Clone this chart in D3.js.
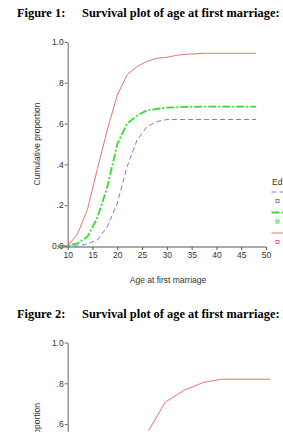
<!DOCTYPE html>
<html>
<head>
<meta charset="utf-8">
<script src="https://cdn.jsdelivr.net/npm/d3@7"></script>
<style>
  body { margin: 0; background: #fff; }
  text { font-family: "Liberation Sans", Arial, sans-serif; fill: #333; }
  .title { font-family: "Liberation Serif", "Times New Roman", serif; font-weight: bold; font-size: 12.4px; fill: #000; }
</style>
</head>
<body>
<svg width="283" height="432"></svg>
<script>
// x ticks and y ticks shared by both figures
const xTicks = [10, 15, 20, 25, 30, 35, 40, 45, 50]
const yTicks = [0, 0.2, 0.4, 0.6, 0.8, 1.0]
const yTickLabels = ["0.0", ".2", ".4", ".6", ".8", "1.0"]

// figure 1 series (age, cumulative proportion)
const ageF1 = [8, 10, 12, 14, 16, 18, 20, 22, 24, 26, 28, 30, 32, 34, 38, 48]
const redF1 = [0, 0, 0.06, 0.18, 0.38, 0.57, 0.74, 0.84, 0.88, 0.905, 0.92, 0.925, 0.935, 0.94, 0.945, 0.945]
const greenF1 = [0, 0, 0.013, 0.046, 0.14, 0.29, 0.5, 0.6, 0.64, 0.665, 0.672, 0.678, 0.68, 0.682, 0.683, 0.683]
const blueF1 = [0, 0, 0, 0.01, 0.03, 0.095, 0.21, 0.39, 0.52, 0.585, 0.61, 0.62, 0.62, 0.62, 0.62, 0.62]

// figure 2 (only the upper part is visible)
const ageF2 = [26.3, 29.7, 33.4, 37.4, 41.1, 50.9]
const redF2 = [0.568, 0.708, 0.765, 0.805, 0.82, 0.82]

const svg = d3.select("svg")

const x = d3.scaleLinear().domain([8, 50]).range([57.8, 266])

const styles = {
  blue: { color: "#6a6ae0", width: 0.9, dash: "5,3" },
  green: { color: "#33dd33", width: 1.8, dash: "8,2,2,2" },
  red: { color: "#e06464", width: 0.9, dash: null }
}

const drawPanel = function (top, series, showX, showLegend) {
  const y = d3.scaleLinear().domain([0, 1]).range([top + 204, top])

  // y axis
  const axisY = d3.axisLeft(y)
    .tickValues(yTicks)
    .tickFormat((d, i) => yTickLabels[i])
    .tickSizeInner(3)
    .tickSizeOuter(0)
    .tickPadding(1)
  const gy = svg.append("g")
    .attr("transform", `translate(${x(10)},0)`)
    .call(axisY)
  gy.select(".domain").attr("stroke", "#888").attr("stroke-width", 1.3)
  gy.selectAll(".tick line").attr("stroke", "#666")
  gy.selectAll("text").attr("font-size", "8.5px").attr("fill", "#444")
    .attr("font-family", "Liberation Sans, Arial, sans-serif")

  svg.append("text")
    .attr("transform", `translate(40,${top + 102}) rotate(-90)`)
    .attr("text-anchor", "middle")
    .attr("font-size", "8.5px")
    .text("Cumulative proportion")

  if (showX) {
    const axisX = d3.axisBottom(x)
      .tickValues(xTicks)
      .tickSizeInner(3)
      .tickSizeOuter(0)
      .tickPadding(2)
    const gx = svg.append("g")
      .attr("transform", `translate(0,${top + 205})`)
      .call(axisX)
    gx.select(".domain").attr("stroke", "#555").attr("stroke-width", 1)
      .attr("d", `M${x(8)},0H${x(50)}`)
    gx.selectAll(".tick line").attr("stroke", "#555")
    gx.selectAll("text").attr("font-size", "8.5px").attr("fill", "#444")
      .attr("font-family", "Liberation Sans, Arial, sans-serif")

    svg.append("text")
      .attr("x", 168)
      .attr("y", top + 241)
      .attr("text-anchor", "middle")
      .attr("font-size", "8.5px")
      .text("Age at first marriage")
  }

  const line = d3.line()
    .x(d => x(d[0]))
    .y(d => y(d[1]))

  series.forEach(s => {
    const st = styles[s.key]
    svg.append("path")
      .datum(d3.zip(s.ages, s.values))
      .attr("fill", "none")
      .attr("stroke", st.color)
      .attr("stroke-width", st.width)
      .attr("stroke-dasharray", st.dash)
      .attr("d", line)
  })

  if (showLegend) {
    svg.append("text")
      .attr("x", 272)
      .attr("y", top + 143)
      .attr("font-size", "8.5px")
      .text("Ed")
    const keys = ["blue", "green", "red"]
    keys.forEach((k, i) => {
      const st = styles[k]
      const ly = top + 150 + i * 20.5
      svg.append("line")
        .attr("x1", 271.5).attr("x2", 290)
        .attr("y1", ly).attr("y2", ly)
        .attr("stroke", st.color)
        .attr("stroke-width", st.width)
        .attr("stroke-dasharray", st.dash)
      svg.append("rect")
        .attr("x", 276).attr("y", ly + 7.5)
        .attr("width", 3).attr("height", 3)
        .attr("fill", "none")
        .attr("stroke", st.color)
        .attr("stroke-width", 0.9)
    })
  }
}

// titles
svg.append("text").attr("class", "title").attr("x", 17).attr("y", 17).text("Figure 1:")
svg.append("text").attr("class", "title").attr("x", 82).attr("y", 17).text("Survival plot of age at first marriage: Education")
svg.append("text").attr("class", "title").attr("x", 17).attr("y", 318).text("Figure 2:")
svg.append("text").attr("class", "title").attr("x", 82).attr("y", 318).text("Survival plot of age at first marriage: Religion")

drawPanel(42, [
  { key: "blue", ages: ageF1, values: blueF1 },
  { key: "green", ages: ageF1, values: greenF1 },
  { key: "red", ages: ageF1, values: redF1 }
], true, true)

drawPanel(342.5, [
  { key: "red", ages: ageF2, values: redF2 }
], false, false)
</script>
</body>
</html>
